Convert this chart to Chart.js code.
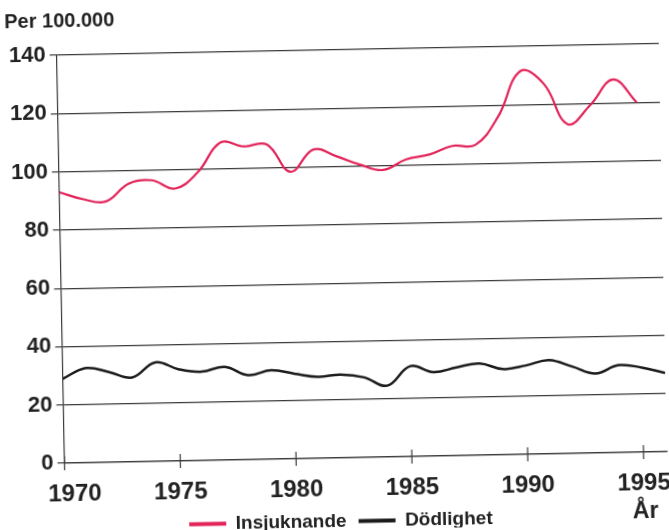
<!DOCTYPE html>
<html>
<head>
<meta charset="utf-8">
<script src="https://cdn.jsdelivr.net/npm/chart.js@4.4.1/dist/chart.umd.min.js"></script>
<style>
html, body { margin: 0; padding: 0; background: #fff; overflow: hidden; }
#wrap { width: 669px; height: 530px; transform: rotate(-1.1deg); transform-origin: 50% 50%; }
</style>
</head>
<body>
<div id="wrap"><canvas id="myChart" width="669" height="530"></canvas></div>
<script>
let years = [1970, 1971, 1972, 1973, 1974, 1975, 1976, 1977, 1978, 1979, 1980, 1981, 1982,
             1983, 1984, 1985, 1986, 1987, 1988, 1989, 1990, 1991, 1992, 1993, 1994, 1995, 1996];
let insjuknande = [93, 90.5, 89.5, 95.5, 96.5, 93.5, 99, 109, 107.5, 108, 98.5, 106, 103.5,
                   100.5, 98.5, 102, 103.5, 106.3, 106.5, 116, 131.5, 127, 113, 119.5, 128, 120, null];
let dodlighet = [29, 32.5, 31, 29, 34, 31.5, 30.5, 32, 29, 30.5, 29.2, 28, 28.6,
                 27.5, 24.5, 31, 28.8, 30.3, 31.5, 29.4, 30.5, 32.2, 29.8, 27.3, 30, 29, 27];
let seriesNames = ['Insjuknande', 'Dödlighet'];
let colors = ['#e2245a', '#1c1c1c'];
let yTicks = [0, 20, 40, 60, 80, 100, 120, 140];
let xTicks = [1970, 1975, 1980, 1985, 1990, 1995];

let font = "'Liberation Sans', Arial, sans-serif";
let ink = '#222';
let gridColor = '#3a3a3a';

function points(values) {
    return years.map((yr, i) => ({ x: yr, y: values[i] }));
}

// tick marks crossing the baseline, plus the "År" unit under 1995
let extras = {
    id: 'extras',
    afterDatasetsDraw(chart) {
        let ctx = chart.ctx;
        let area = chart.chartArea;
        let x = chart.scales.x;
        ctx.save();
        ctx.strokeStyle = gridColor;
        ctx.lineWidth = 1.2;
        xTicks.forEach(v => {
            let px = x.getPixelForValue(v);
            ctx.beginPath();
            ctx.moveTo(px, area.bottom - 7);
            ctx.lineTo(px, area.bottom + 7);
            ctx.stroke();
        });
        ctx.fillStyle = ink;
        ctx.font = 'bold 23px ' + font;
        ctx.textAlign = 'center';
        ctx.textBaseline = 'middle';
        ctx.fillText('År', x.getPixelForValue(1995) + 1, area.bottom + 60);
        ctx.restore();
    }
};

let mychart = document.getElementById('myChart').getContext('2d');

let chart = new Chart(mychart, {
    type: 'line',
    data: {
        datasets: [{
            label: seriesNames[0],
            data: points(insjuknande),
            borderColor: colors[0],
            backgroundColor: colors[0],
            borderWidth: 2.2,
            tension: 0.4,
            pointRadius: 0,
            fill: false
        },
        {
            label: seriesNames[1],
            data: points(dodlighet),
            borderColor: colors[1],
            backgroundColor: colors[1],
            borderWidth: 2.5,
            tension: 0.4,
            pointRadius: 0,
            fill: false
        }]
    },
    options: {
        responsive: false,
        animation: false,
        layout: { padding: { left: 9, right: 6, top: 4, bottom: -11 } },
        scales: {
            x: {
                type: 'linear',
                min: 1970,
                max: 1996,
                grid: { display: false, drawTicks: true, tickLength: 17 },
                border: { color: gridColor, width: 1.2 },
                afterBuildTicks: axis => { axis.ticks = xTicks.map(v => ({ value: v })); },
                afterFit: axis => { axis.height = 42; },
                ticks: {
                    padding: 0,
                    color: ink,
                    maxRotation: 0,
                    font: { family: font, size: 24, weight: 'bold' },
                    callback: v => (v === 1970 ? '\u00a0\u00a0\u00a0' : '') + v
                }
            },
            y: {
                min: 0,
                max: 140,
                afterBuildTicks: axis => { axis.ticks = yTicks.map(v => ({ value: v })); },
                grid: { color: gridColor, lineWidth: 1.2, tickLength: 7, tickColor: gridColor },
                border: { color: gridColor, width: 1.2 },
                ticks: {
                    padding: 4,
                    color: ink,
                    font: { family: font, size: 22, weight: 'bold' }
                }
            }
        },
        plugins: {
            title: {
                display: true,
                text: 'Per 100.000',
                align: 'start',
                color: ink,
                font: { family: font, size: 20, weight: 'bold' },
                padding: { top: 0, bottom: 22 }
            },
            legend: {
                position: 'bottom',
                labels: {
                    usePointStyle: true,
                    pointStyle: 'line',
                    pointStyleWidth: 37,
                    padding: 12,
                    color: ink,
                    font: { family: font, size: 19, weight: 'bold' },
                    generateLabels(c) {
                        let items = Chart.defaults.plugins.legend.labels.generateLabels(c);
                        items.forEach(it => { it.lineWidth = 4; });
                        return items;
                    }
                }
            },
            tooltip: { enabled: false }
        }
    },
    plugins: [extras]
});
</script>
</body>
</html>
